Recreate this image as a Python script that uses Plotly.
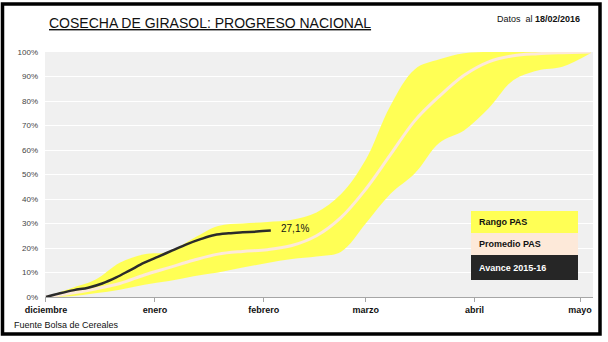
import plotly.graph_objects as go

# Days since 1 Dec 2015
band_days = [0, 7, 14, 21, 28, 35, 42, 49, 56, 63, 70, 77, 84, 91, 98, 105, 112, 119, 126, 133, 140, 147, 155]
rango_max = [0, 3.5, 7, 14, 17.5, 18.5, 24, 29, 30, 30.6, 31.5, 34.5, 42, 56, 78, 93, 97, 99.5, 100, 100, 100, 100, 100]
rango_min = [0, 0.3, 1.5, 3, 5, 6.5, 8.5, 10, 12, 13.9, 15.5, 16.5, 18.5, 30, 42, 50.5, 63, 68, 77, 88.5, 92.5, 94, 99.5]
promedio = [0, 1.5, 3.3, 5.5, 9, 12, 15, 17.5, 18.6, 19.3, 21, 25, 32.5, 44, 58, 72, 82, 90.5, 96, 98.5, 99.3, 99.7, 100]

avance_days = [0, 4, 8, 12, 16, 20, 24, 28, 32, 36, 40, 44, 48, 52, 56, 60, 64]
avance = [0, 1.5, 2.8, 3.8, 5.5, 8, 11, 14, 16.5, 19, 21.5, 23.6, 25.3, 26, 26.4, 26.7, 27.1]

month_days = [0, 31, 62, 91, 122, 152]
month_labels = ["diciembre", "enero", "febrero", "marzo", "abril", "mayo"]
y_ticks = [0, 10, 20, 30, 40, 50, 60, 70, 80, 90, 100]

YELLOW = "#FFFF55"
PEACH = "#FDE9D9"
DARK = "#2B2B2B"

fig = go.Figure()
fig.add_trace(go.Scatter(x=band_days, y=rango_min, mode="lines", line=dict(color=YELLOW, width=0),
                         line_shape="spline", showlegend=False, hoverinfo="skip"))
fig.add_trace(go.Scatter(x=band_days, y=rango_max, mode="lines", line=dict(color=YELLOW, width=0),
                         line_shape="spline", fill="tonexty", fillcolor=YELLOW, showlegend=False))
fig.add_trace(go.Scatter(x=band_days, y=promedio, mode="lines", line=dict(color=PEACH, width=3),
                         line_shape="spline", showlegend=False))
fig.add_trace(go.Scatter(x=avance_days, y=avance, mode="lines", line=dict(color=DARK, width=2.5),
                         line_shape="spline", showlegend=False))

font = "Liberation Sans"
fig.add_annotation(x=avance_days[-1], y=avance[-1], text=f"{avance[-1]:.1f}".replace(".", ",") + "%",
                   showarrow=False, xanchor="left", xshift=8, yshift=2,
                   font=dict(family=font, size=10, color="#111111"))

fig.update_layout(
    width=608, height=342,
    margin=dict(l=45, r=15, t=52, b=45),
    paper_bgcolor="white", plot_bgcolor="#F0F0F0",
    font=dict(family=font, color="#222222"),
    xaxis=dict(range=[-0.28, 155.7], tickvals=month_days,
               ticktext=[f"<b>{m}</b>" for m in month_labels],
               showgrid=False, zeroline=False, showline=True, linecolor="#A6A6A6", linewidth=1,
               ticks="outside", ticklen=4, tickcolor="#A6A6A6",
               tickfont=dict(family=font, size=9, color="#111111")),
    yaxis=dict(range=[0, 100], tickvals=y_ticks, ticktext=[f"{v}%" for v in y_ticks],
               showgrid=True, gridcolor="white", gridwidth=1, zeroline=False,
               showline=False, ticks="", ticklabelstandoff=6,
               tickfont=dict(family=font, size=8, color="#444444")),
)

# title and notes
fig.add_annotation(xref="paper", yref="paper", x=0.003, y=1.12, xanchor="left", yanchor="middle",
                   text="<u>COSECHA DE GIRASOL: PROGRESO NACIONAL</u>", showarrow=False,
                   font=dict(family=font, size=14, color="#111111"))
fig.add_annotation(xref="paper", yref="paper", x=0.98, y=1.135, xanchor="right", yanchor="middle",
                   text="Datos  al <b>18/02/2016</b>", showarrow=False,
                   font=dict(family=font, size=9, color="#111111"))
fig.add_annotation(xref="paper", yref="paper", x=-0.06, y=-0.115, xanchor="left", yanchor="middle",
                   text="Fuente Bolsa de Cereales", showarrow=False,
                   font=dict(family=font, size=9, color="#111111"))

# legend boxes
def px_x(p):
    return (p - 45) / 548
def px_y(p):
    return (297 - p) / 245

boxes = [("Rango PAS", YELLOW, "#111111", 211, 233),
         ("Promedio PAS", PEACH, "#111111", 233, 255),
         ("Avance 2015-16", "#262626", "white", 255, 280)]
for label, fillc, txtc, y0, y1 in boxes:
    fig.add_shape(type="rect", xref="paper", yref="paper", x0=px_x(471), x1=px_x(578),
                  y0=px_y(y1), y1=px_y(y0), fillcolor=fillc, line=dict(width=0), layer="above")
    fig.add_annotation(xref="paper", yref="paper", x=px_x(477), y=px_y((y0 + y1) / 2),
                       xanchor="left", yanchor="middle", text=f"<b>{label}</b>", showarrow=False,
                       font=dict(family=font, size=9, color=txtc))

# outer frame
fig.add_shape(type="rect", xref="paper", yref="paper", x0=px_x(2.5), x1=px_x(600),
              y0=px_y(334), y1=px_y(4), line=dict(color="black", width=3.5), fillcolor="rgba(0,0,0,0)")

fig.write_html("out.html")
